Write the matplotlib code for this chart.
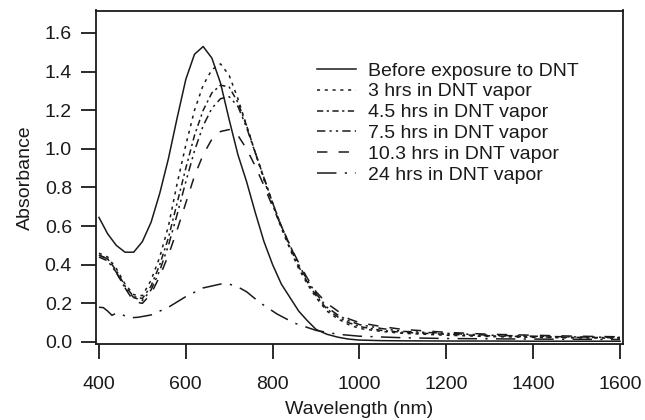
import matplotlib.pyplot as plt
import numpy as np

plt.rcParams['font.family'] = ['Liberation Sans', 'DejaVu Sans']
plt.rcParams['lines.scale_dashes'] = False

# longitud de onda comun (nm)
wl = [400, 420, 440, 460, 480, 500, 520, 540, 560, 580, 600, 620, 640, 660, 680,
      700, 720, 740, 760, 780, 800, 820, 840, 860, 880, 900, 925, 950, 975, 1000,
      1050, 1100, 1200, 1300, 1400, 1500, 1600]

antes = [0.645, 0.56, 0.50, 0.465, 0.465, 0.52, 0.62, 0.77, 0.95, 1.16, 1.36, 1.49, 1.53, 1.47, 1.34,
         1.15, 0.97, 0.83, 0.67, 0.52, 0.40, 0.30, 0.23, 0.16, 0.11, 0.065, 0.04, 0.025, 0.015, 0.01,
         0.007, 0.006, 0.005, 0.005, 0.004, 0.004, 0.004]
h3 = [0.46, 0.44, 0.38, 0.30, 0.245, 0.24, 0.32, 0.44, 0.60, 0.82, 1.02, 1.20, 1.33, 1.41, 1.44,
      1.38, 1.26, 1.12, 0.98, 0.84, 0.71, 0.59, 0.48, 0.38, 0.30, 0.23, 0.16, 0.12, 0.09, 0.07,
      0.055, 0.045, 0.035, 0.028, 0.024, 0.021, 0.02]
h45 = [0.45, 0.43, 0.37, 0.29, 0.235, 0.225, 0.29, 0.40, 0.54, 0.72, 0.90, 1.07, 1.20, 1.29, 1.33,
       1.32, 1.24, 1.12, 0.98, 0.85, 0.72, 0.60, 0.49, 0.39, 0.31, 0.24, 0.17, 0.13, 0.10, 0.08,
       0.06, 0.05, 0.04, 0.032, 0.027, 0.024, 0.022]
h75 = [0.44, 0.42, 0.36, 0.28, 0.23, 0.215, 0.27, 0.37, 0.50, 0.66, 0.83, 0.99, 1.12, 1.21, 1.26,
       1.27, 1.22, 1.11, 0.98, 0.85, 0.72, 0.60, 0.50, 0.40, 0.32, 0.25, 0.18, 0.14, 0.11, 0.09,
       0.07, 0.055, 0.045, 0.035, 0.03, 0.026, 0.024]
h103 = [0.45, 0.43, 0.36, 0.28, 0.21, 0.20, 0.25, 0.34, 0.45, 0.58, 0.72, 0.86, 0.97, 1.05, 1.09,
        1.10, 1.07, 1.00, 0.91, 0.81, 0.70, 0.60, 0.50, 0.41, 0.33, 0.26, 0.20, 0.16, 0.12, 0.10,
        0.08, 0.065, 0.05, 0.04, 0.035, 0.03, 0.027]

wl24 = [400, 410, 420, 430, 440, 450, 470, 490, 520, 560, 600, 640, 680, 700, 720, 740, 770,
        810, 850, 900, 950, 1000, 1100, 1200, 1400, 1600]
h24 = [0.18, 0.178, 0.16, 0.138, 0.15, 0.145, 0.125, 0.128, 0.14, 0.18, 0.235, 0.28, 0.30, 0.30,
       0.285, 0.26, 0.205, 0.145, 0.098, 0.06, 0.04, 0.03, 0.022, 0.018, 0.015, 0.013]

etiquetas = ['Before exposure to DNT', '3 hrs in DNT vapor', '4.5 hrs in DNT vapor',
             '7.5 hrs in DNT vapor', '10.3 hrs in DNT vapor', '24 hrs in DNT vapor']

cor = '#1a1a1a'
lw = 1.1
fs = 14
fig = plt.figure(figsize=(6.45, 4.2), dpi=100)
ax = fig.add_axes([0.1488, 0.1798, 0.8171, 0.7952])

ax.plot(wl, antes, '-', color=cor, lw=lw, label=etiquetas[0])
ax.plot(wl, h3, color=cor, lw=lw, dashes=(2.2, 3.4), label=etiquetas[1])
ax.plot(wl, h45, color=cor, lw=lw, dashes=(4.5, 2.5, 1.6, 2.5), label=etiquetas[2])
ax.plot(wl, h75, color=cor, lw=lw, dashes=(6, 3, 1.6, 3, 1.6, 3), label=etiquetas[3])
ax.plot(wl, h103, color=cor, lw=lw, dashes=(7.5, 8), label=etiquetas[4])
ax.plot(wl24, h24, color=cor, lw=lw, dashes=(14, 6, 1.6, 6), label=etiquetas[5])

ax.set_xlim(393.1, 1606.9)
ax.set_ylim(-0.0129, 1.7165)
ax.set_xticks(np.arange(400, 1601, 200))
ax.set_yticks(np.arange(0, 1.61, 0.2))
ax.yaxis.set_major_formatter(plt.FormatStrFormatter('%.1f'))
ax.tick_params(direction='out', length=10.8, width=1.3, color=cor, labelcolor=cor,
               labelsize=fs)
ax.tick_params(axis='y', pad=6.5)
ax.tick_params(axis='x', pad=12)
for s in ax.spines.values():
    s.set_linewidth(1.3)
    s.set_color(cor)

ax.set_xlabel('Wavelength (nm)', fontsize=fs, color=cor, labelpad=5.5)
ax.set_ylabel('Absorbance', fontsize=fs, color=cor, labelpad=8)

ax.legend(loc='upper left', bbox_to_anchor=(0.42, 0.846), frameon=False, fontsize=fs,
          handlelength=2.0, handletextpad=0.6, labelspacing=0.17, borderaxespad=0,
          borderpad=0, labelcolor=cor)

plt.savefig('out.png', dpi=100)
